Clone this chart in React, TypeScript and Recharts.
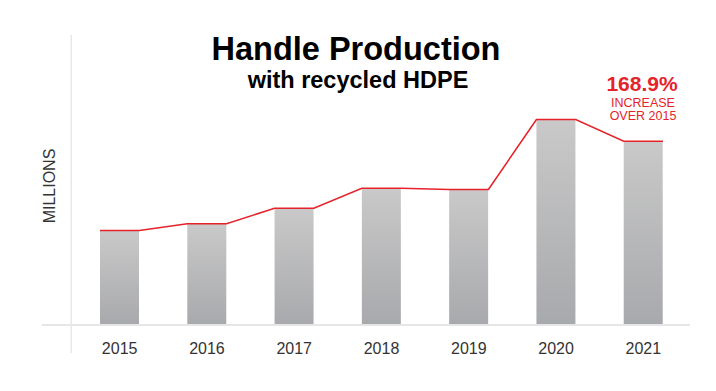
import { ComposedChart, Bar, Line, XAxis, YAxis, ReferenceLine } from 'recharts';

const YEARS = ['2015', '2016', '2017', '2018', '2019', '2020', '2021'];
// millions of handles
const HANDLES = [9.45, 10.12, 11.68, 13.68, 13.55, 20.55, 18.38];
const INCREASE_LABEL = '168.9%';
const INCREASE_NOTE = ['INCREASE', 'OVER 2015'];

const FONT = '"Liberation Sans", Arial, Helvetica, sans-serif';
const RED = '#e5232b';
const BAR_GAP = 0.275; // fraction of the band left empty on each side of a bar
const PAD = { left: 34, right: 3 };

const barData = YEARS.map((year, i) => ({ year, value: HANDLES[i] }));

// red outline runs flat across each bar top, then slopes to the next bar
const lineData = HANDLES.flatMap((v, i) => [
  { pos: i + BAR_GAP, value: v },
  { pos: i + 1 - BAR_GAP, value: v },
]);

export default function App() {
  return (
    <div style={{ position: 'absolute', left: 0, top: 0, width: 716, height: 391, background: '#fff' }}>
      <ComposedChart
        width={716}
        height={391}
        data={barData}
        margin={{ top: 35, right: 26, bottom: 36, left: 42 }}
        barCategoryGap={`${BAR_GAP * 100}%`}
      >
        <defs>
          <linearGradient id="barFill" x1="0" y1="0" x2="0" y2="1">
            <stop offset="0%" stopColor="#c9c9c9" />
            <stop offset="100%" stopColor="#a8a9ac" />
          </linearGradient>
        </defs>
        <XAxis
          xAxisId="cat"
          dataKey="year"
          padding={PAD}
          height={30}
          axisLine={{ stroke: '#e6e6e6', strokeWidth: 2 }}
          tickLine={false}
          tickSize={0}
          tickMargin={18}
          tick={{ fontSize: 16, fill: '#333', fontFamily: FONT }}
        />
        <XAxis xAxisId="num" type="number" dataKey="pos" domain={[0, YEARS.length]} padding={PAD} hide allowDataOverflow />
        <YAxis domain={[0, 29]} hide />
        <ReferenceLine
          xAxisId="num"
          segment={[{ x: -0.055, y: 29 }, { x: -0.055, y: -2.8 }]}
          ifOverflow="visible"
          stroke="#dcdcdc"
          strokeWidth={1}
        />
        <Bar xAxisId="cat" dataKey="value" fill="url(#barFill)" isAnimationActive={false} />
        <Line
          xAxisId="num"
          data={lineData}
          dataKey="value"
          type="linear"
          stroke={RED}
          strokeWidth={1.6}
          dot={false}
          activeDot={false}
          isAnimationActive={false}
        />
        <text x={356} y={60} textAnchor="middle" fontFamily={FONT} fontWeight="bold" fontSize={32.5} fill="#000">
          Handle Production
        </text>
        <text x={358} y={88} textAnchor="middle" fontFamily={FONT} fontWeight="bold" fontSize={23.5} fill="#000">
          with recycled HDPE
        </text>
        <text x={642} y={91} textAnchor="middle" fontFamily={FONT} fontWeight="bold" fontSize={21} fill={RED}>
          {INCREASE_LABEL}
        </text>
        <text x={643} y={106.5} textAnchor="middle" fontFamily={FONT} fontSize={12.5} fill={RED}>
          {INCREASE_NOTE[0]}
        </text>
        <text x={643} y={119.5} textAnchor="middle" fontFamily={FONT} fontSize={12.5} fill={RED}>
          {INCREASE_NOTE[1]}
        </text>
        <text
          x={55}
          y={186}
          textAnchor="middle"
          transform="rotate(-90, 55, 186)"
          fontFamily={FONT}
          fontSize={16}
          fill="#333"
        >
          MILLIONS
        </text>
      </ComposedChart>
    </div>
  );
}
